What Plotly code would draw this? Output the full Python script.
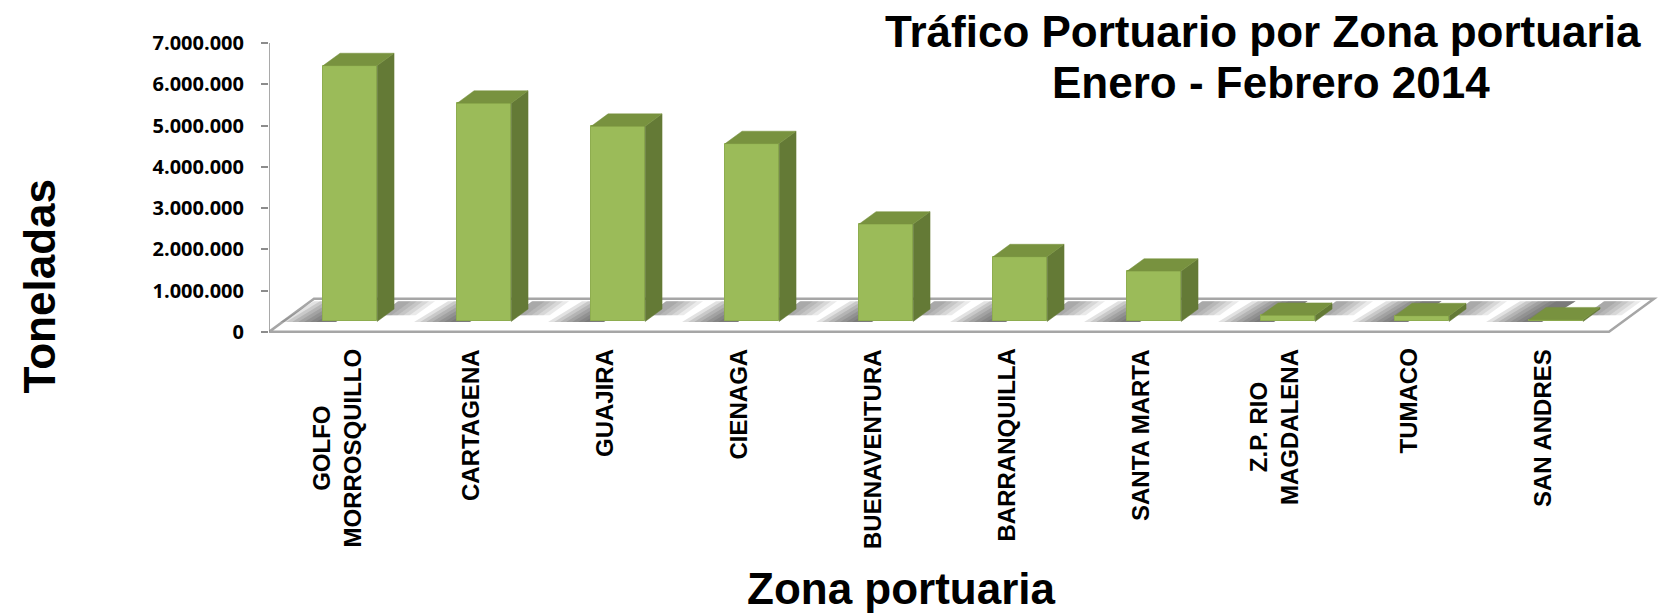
import plotly.graph_objects as go

# ---------------- data ----------------
categories = ["GOLFO<br>MORROSQUILLO", "CARTAGENA", "GUAJIRA", "CIENAGA", "BUENAVENTURA",
              "BARRANQUILLA", "SANTA MARTA", "Z.P. RIO<br>MAGDALENA", "TUMACO", "SAN ANDRES"]
toneladas = [6200000, 5290000, 4730000, 4310000, 2360000,
             1570000, 1220000, 150000, 140000, 40000]
y_tick_values = [0, 1000000, 2000000, 3000000, 4000000, 5000000, 6000000, 7000000]

title_line1 = "Tráfico Portuario por Zona portuaria"
title_line2 = "Enero - Febrero 2014"
y_title = "Toneladas"
x_title = "Zona portuaria"

# ---------------- geometry / style ----------------
OFF = 8                     # page body margin
W, H = 1666 - OFF, 615 - OFF
ML, MR, MT = 269 - OFF, 5, 43 - OFF
PX_PER_X = 134.0          # pixels per category
PX_PER_M = 41.2           # pixels per million
Y_MIN = -100000
Y_MAX = 7000000
plot_w = W - ML - MR
plot_h = (Y_MAX - Y_MIN) / 1e6 * PX_PER_M
MB = H - MT - plot_h
X_MIN = -0.5
X_MAX = X_MIN + plot_w / PX_PER_X

DX = 45 / PX_PER_X              # floor depth projection (x units)
DY = 33 / PX_PER_M * 1e6        # floor depth projection (y units)
D_FRONT, D_BACK = 0.315, 0.69   # bar depth within floor
HALF_W = 0.2015

FRONT = "#9BBB59"
SIDE = "#647A36"
TOP = "#78923F"
GRAY = "#A6A6A6"

n = len(categories)
idx = list(range(n))


def px_to_paper_x(px):
    return (px - OFF - ML) / plot_w


def px_to_paper_y(py):
    return (H - MB - (py - OFF)) / plot_h


def floor_poly(u0, u1, d0, d1, skew=0.0):
    """parallelogram on the floor plane, u = front-plane x, d = depth fraction"""
    pts = [(u0, d0), (u1, d0), (u1 + skew, d1), (u0 + skew, d1)]
    s = " L ".join(f"{u + d * DX},{d * DY}" for u, d in pts)
    return f"M {s} Z"


fig = go.Figure()

# front faces: real bars through the axes
bx = [i + D_FRONT * DX for i in idx]
fig.add_trace(go.Bar(
    x=bx, y=toneladas, base=[D_FRONT * DY] * n, width=2 * HALF_W,
    marker=dict(color=FRONT, line=dict(color="#8EAD4F", width=1)),
    hoverinfo="skip", showlegend=False,
))

# side and top faces derived from the values
dd = D_BACK - D_FRONT
sx, sy, tx, ty = [], [], [], []
for i, v in zip(idx, toneladas):
    xl = i + D_FRONT * DX - HALF_W
    xr = i + D_FRONT * DX + HALF_W
    b = D_FRONT * DY
    sx += [xr, xr + dd * DX, xr + dd * DX, xr, xr, None]
    sy += [b, b + dd * DY, b + dd * DY + v, b + v, b, None]
    tx += [xl, xr, xr + dd * DX, xl + dd * DX, xl, None]
    ty += [b + v, b + v, b + v + dd * DY, b + v + dd * DY, b + v, None]

fig.add_trace(go.Scatter(x=sx, y=sy, mode="lines", fill="toself", fillcolor=SIDE,
                         line=dict(color=SIDE, width=0.5), hoverinfo="skip", showlegend=False))
fig.add_trace(go.Scatter(x=tx, y=ty, mode="lines", fill="toself", fillcolor=TOP,
                         line=dict(color=TOP, width=0.5), hoverinfo="skip", showlegend=False))

shapes = []
# floor
fl, fr = -0.5, n - 0.5
shapes.append(dict(type="path", layer="below", xref="x", yref="y",
                   path=floor_poly(fl, fr, 0, 1),
                   fillcolor="white", line=dict(color=GRAY, width=2.5)))
# soft shadows around each bar footprint
for i in idx:
    ul = i - HALF_W
    ur = i + HALF_W
    for k in range(1, 8):
        # darker band just left of the bar, fading to the left
        shapes.append(dict(type="path", layer="below", xref="x", yref="y",
                           path=floor_poly(ul - 0.045 * k, ul + 0.1, D_FRONT - 0.02, 0.93, 0.04),
                           fillcolor="rgba(60,60,60,0.15)", line=dict(width=0)))
    for k in range(1, 6):
        # lighter band behind the side face, fading to the right
        shapes.append(dict(type="path", layer="below", xref="x", yref="y",
                           path=floor_poly(ur - 0.05, ur + 0.045 * k, 0.5, 0.93, 0.0),
                           fillcolor="rgba(60,60,60,0.11)", line=dict(width=0)))
# value axis line
shapes.append(dict(type="line", xref="x", yref="y", x0=-0.5, x1=-0.5, y0=0, y1=Y_MAX,
                   line=dict(color="#8C8C8C", width=1.5)))

annotations = []
for i, c in zip(idx, categories):
    annotations.append(dict(x=i, xref="x", y=0, yref="paper", yanchor="top", xanchor="center",
                            yshift=-11, text=c, textangle=-90, showarrow=False, align="center",
                            font=dict(family="Liberation Sans, Arial", size=24, color="black",
                                      weight="bold")))
annotations += [
    dict(x=px_to_paper_x(1263), y=px_to_paper_y(31.5), xref="paper", yref="paper",
         text=title_line1, showarrow=False, xanchor="center", yanchor="middle",
         font=dict(family="Liberation Sans, Arial", size=44, color="black", weight="bold")),
    dict(x=px_to_paper_x(1271), y=px_to_paper_y(82), xref="paper", yref="paper",
         text=title_line2, showarrow=False, xanchor="center", yanchor="middle",
         font=dict(family="Liberation Sans, Arial", size=44, color="black", weight="bold")),
    dict(x=px_to_paper_x(39), y=px_to_paper_y(286), xref="paper", yref="paper",
         text=y_title, textangle=-90, showarrow=False, xanchor="center", yanchor="middle",
         font=dict(family="Liberation Sans, Arial", size=44, color="black", weight="bold")),
    dict(x=px_to_paper_x(901), y=px_to_paper_y(588), xref="paper", yref="paper",
         text=x_title, showarrow=False, xanchor="center", yanchor="middle",
         font=dict(family="Liberation Sans, Arial", size=44, color="black", weight="bold")),
]

fig.update_layout(
    width=W, height=H, autosize=False,
    margin=dict(l=ML, r=MR, t=MT, b=MB, pad=0),
    paper_bgcolor="white", plot_bgcolor="white",
    separators=",.",
    shapes=shapes, annotations=annotations,
    bargap=0, showlegend=False,
    xaxis=dict(range=[X_MIN, X_MAX], visible=False, fixedrange=True),
    yaxis=dict(range=[Y_MIN, Y_MAX], tickvals=y_tick_values, tickformat=",d",
               showgrid=False, zeroline=False, showline=False,
               ticks="outside", ticklen=7, tickwidth=1.5, tickcolor="#8C8C8C",
               ticklabelstandoff=13,
               tickfont=dict(family="Open Sans", size=20, color="black", weight="bold"),
               fixedrange=True),
)

fig.write_html("out.html")
